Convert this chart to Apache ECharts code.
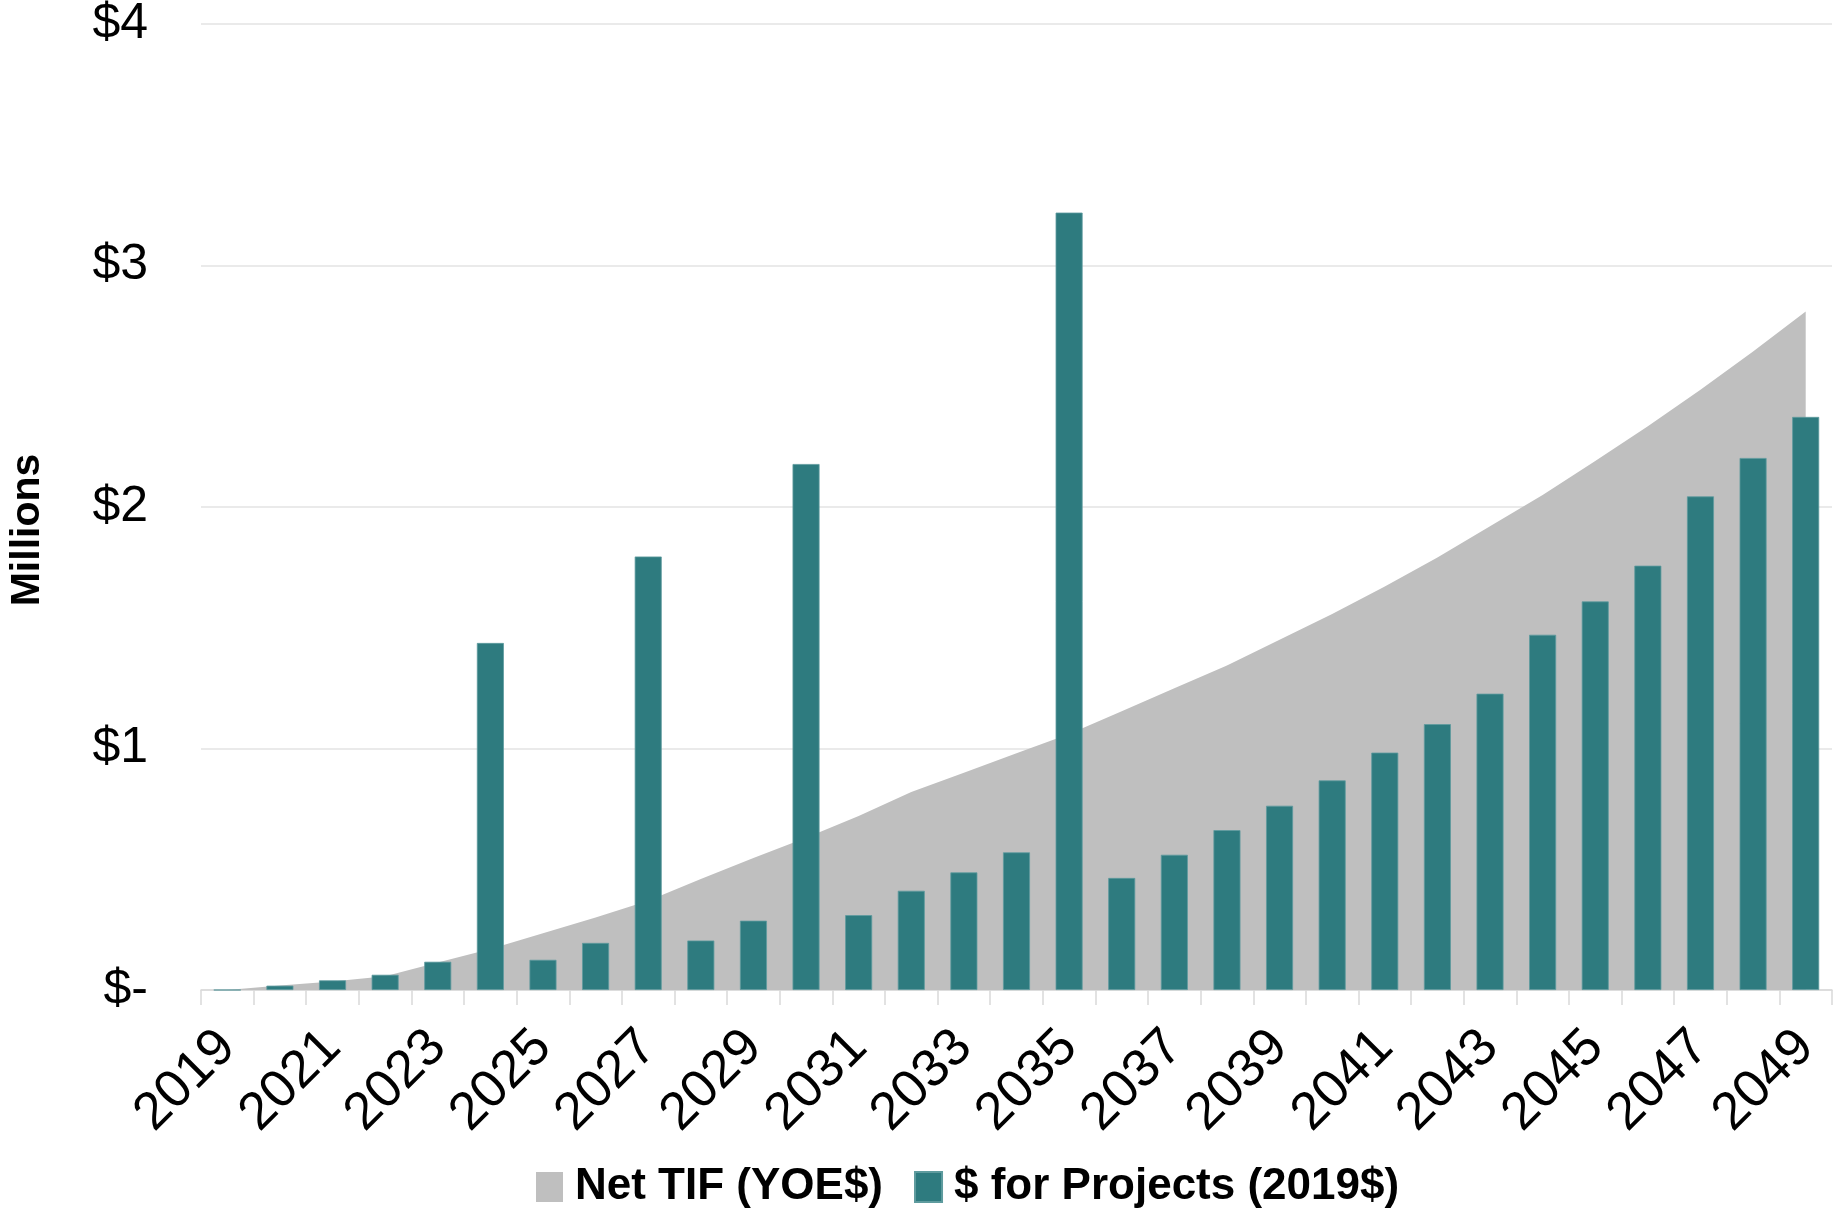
<!DOCTYPE html>
<html>
<head>
<meta charset="utf-8">
<script src="https://cdn.jsdelivr.net/npm/echarts@6/dist/echarts.min.js"></script>
<style>
  html, body { margin: 0; padding: 0; background: #fff; }
  #chart { width: 1834px; height: 1210px; }
</style>
</head>
<body>
<div id="chart"></div>
<script>
// years on the category axis
const years = ['2019','2020','2021','2022','2023','2024','2025','2026','2027','2028',
  '2029','2030','2031','2032','2033','2034','2035','2036','2037','2038',
  '2039','2040','2041','2042','2043','2044','2045','2046','2047','2048','2049']

// Net TIF (YOE$), millions
const netTif = [0.0, 0.019, 0.035, 0.057, 0.114, 0.17, 0.235, 0.30, 0.37, 0.46,
  0.547, 0.63, 0.72, 0.82, 0.90, 0.98, 1.06, 1.154, 1.249, 1.344,
  1.45, 1.557, 1.671, 1.791, 1.92, 2.05, 2.19, 2.334, 2.486, 2.644, 2.81]

// $ for Projects (2019$), millions
const projects = [0, 0.018, 0.04, 0.063, 0.117, 1.437, 0.125, 0.195, 1.795, 0.205,
  0.287, 2.178, 0.31, 0.411, 0.487, 0.57, 3.219, 0.464, 0.56, 0.662,
  0.763, 0.868, 0.983, 1.101, 1.227, 1.471, 1.609, 1.757, 2.044, 2.203, 2.373]

const yTicks = [0, 1, 2, 3, 4]

const gray = '#BFBFBF'
const teal = '#2E7B7F'
const font = '"Liberation Sans", Arial, sans-serif'

const myChart = echarts.init(document.getElementById('chart'))

const option = {
  animation: false,
  grid: {
    left: 201,
    right: 2,
    top: 24,
    bottom: 220,
    containLabel: false,
    outerBoundsMode: 'none'
  },
  legend: {
    left: 531,
    top: 1160,
    itemWidth: 27,
    itemHeight: 30,
    itemGap: 31,
    icon: 'rect',
    data: ['Net TIF (YOE$)', '$ for Projects (2019$)'],
    textStyle: {
      fontFamily: font,
      fontWeight: 'bold',
      fontSize: 44,
      color: '#000',
      padding: [0, 0, 0, 7]
    }
  },
  xAxis: {
    type: 'category',
    data: years,
    boundaryGap: true,
    axisLine: { lineStyle: { color: '#D9D9D9', width: 1.5 } },
    axisTick: { show: true, interval: 0, length: 15, lineStyle: { color: '#D9D9D9', width: 1.5 } },
    axisLabel: {
      interval: 1,
      rotate: 45,
      margin: 49,
      fontFamily: font,
      fontSize: 53,
      color: '#000'
    },
    splitLine: { show: false }
  },
  yAxis: {
    type: 'value',
    min: yTicks[0],
    max: yTicks[yTicks.length - 1],
    interval: 1,
    name: 'Millions',
    nameLocation: 'middle',
    nameGap: 153,
    nameRotate: 90,
    nameTextStyle: {
      fontFamily: font,
      fontWeight: 'bold',
      fontSize: 41,
      color: '#000',
      padding: [0, 46, 0, 0]
    },
    axisLine: { show: false },
    axisTick: { show: false },
    axisLabel: {
      margin: 53,
      fontFamily: font,
      fontSize: 50,
      color: '#000',
      formatter: function (v) {
        return v === 0 ? '$-' : '$' + v
      }
    },
    splitLine: { lineStyle: { color: '#E3E3E3', width: 1.5 } }
  },
  series: [
    {
      name: 'Net TIF (YOE$)',
      type: 'line',
      data: netTif,
      symbol: 'none',
      smooth: false,
      z: 1,
      itemStyle: { color: gray },
      lineStyle: { width: 0, color: gray },
      areaStyle: { color: gray, opacity: 1 }
    },
    {
      name: '$ for Projects (2019$)',
      type: 'bar',
      data: projects,
      barWidth: 27,
      z: 2,
      itemStyle: { color: teal, borderColor: '#5E9B9E', borderWidth: 0.8 }
    }
  ]
}

myChart.setOption(option)
</script>
</body>
</html>
